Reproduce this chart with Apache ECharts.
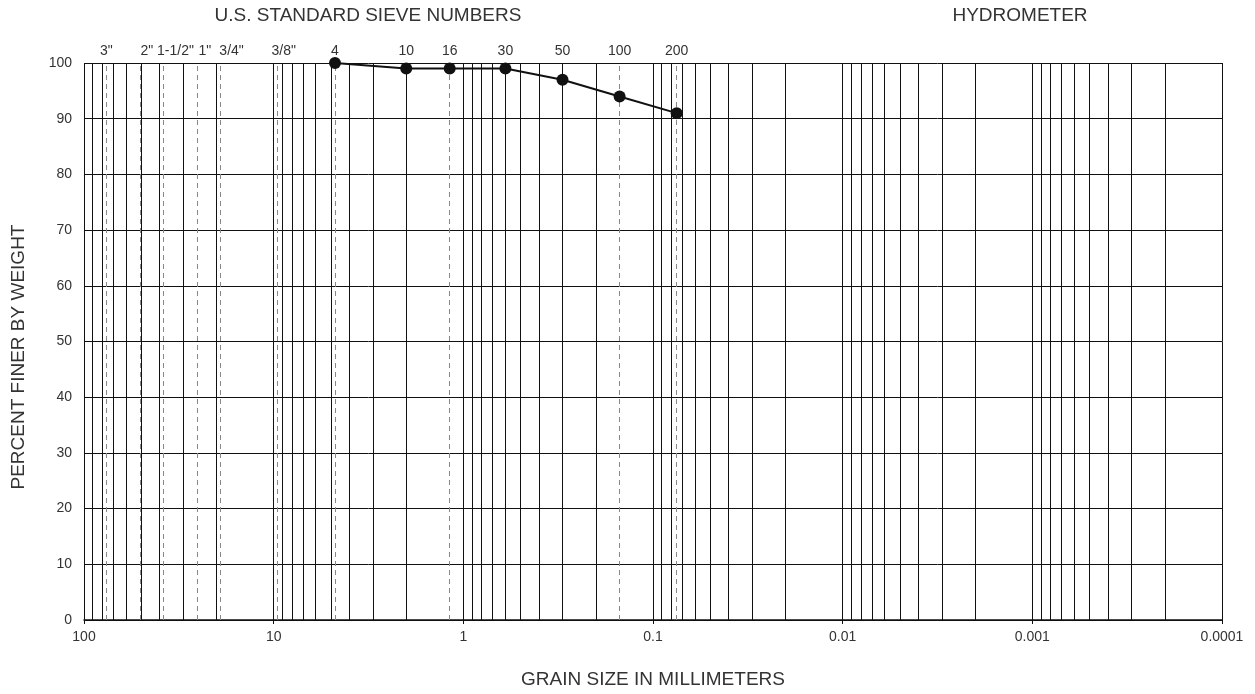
<!DOCTYPE html>
<html>
<head>
<meta charset="utf-8">
<script src="https://cdn.jsdelivr.net/npm/echarts@6/dist/echarts.min.js"></script>
<style>
html,body{margin:0;padding:0;background:#fff;}
#chart{width:1255px;height:694px;}
</style>
</head>
<body>
<div id="chart"></div>
<script>
// ---- data ----
const sieveLabels = ['3"', '2"', '1-1/2"', '1"', '3/4"', '3/8"', '4', '10', '16', '30', '50', '100', '200'];
const sieveSizes = [76.2, 50.8, 38.1, 25.4, 19.05, 9.525, 4.75, 2.0, 1.18, 0.6, 0.3, 0.15, 0.075];
const sampleSizes = [4.75, 2.0, 1.18, 0.6, 0.3, 0.15, 0.075];
const percentFiner = [100, 99, 99, 99, 97, 94, 91];
const xTickLabels = ['100', '10', '1', '0.1', '0.01', '0.001', '0.0001'];
const yTickValues = [0, 10, 20, 30, 40, 50, 60, 70, 80, 90, 100];

// ---- styles ----
const FONT = '"Liberation Sans", Arial, sans-serif';
const TEXT = '#333';
const labelShift = { '2"': 7, '1-1/2"': 12, '1"': 8, '3/4"': 11, '3/8"': 6 };

// log grid lines (1..9 x each decade between 0.0001 and 100)
const gridValues = [];
for (let e = -4; e <= 2; e++) {
  for (let m = 1; m <= 9; m++) {
    const v = +(m * Math.pow(10, e)).toPrecision(6);
    if (v >= 0.0001 && v <= 100) gridValues.push(v);
  }
}

const chart = echarts.init(document.getElementById('chart'), null, { renderer: 'canvas' });
chart.setOption({
  animation: false,
  backgroundColor: '#fff',
  textStyle: { fontFamily: FONT },
  grid: { left: 84, right: 33, top: 63, bottom: 72, containLabel: false },
  graphic: [
    { type: 'text', x: 368, y: 16, style: { text: 'U.S. STANDARD SIEVE NUMBERS', font: '19px ' + FONT, fill: TEXT, textAlign: 'center', textVerticalAlign: 'middle' } },
    { type: 'text', x: 1020, y: 16, style: { text: 'HYDROMETER', font: '19px ' + FONT, fill: TEXT, textAlign: 'center', textVerticalAlign: 'middle' } },
    { type: 'text', x: 19, y: 357, rotation: Math.PI / 2, style: { text: 'PERCENT FINER BY WEIGHT', font: '19px ' + FONT, fill: TEXT, textAlign: 'center', textVerticalAlign: 'middle' } }
  ],
  xAxis: {
    type: 'log',
    logBase: 10,
    min: 0.0001,
    max: 100,
    inverse: true,
    splitNumber: 6,
    name: 'GRAIN SIZE IN MILLIMETERS',
    nameLocation: 'middle',
    nameGap: 50,
    nameTextStyle: { fontSize: 19, color: TEXT, fontFamily: FONT },
    axisLine: { show: true, lineStyle: { color: '#111', width: 1.5 } },
    axisTick: { show: true, length: 4, lineStyle: { color: '#111' } },
    minorTick: { show: false },
    splitLine: { show: false },
    axisLabel: {
      fontSize: 14, color: TEXT, margin: 10, fontFamily: FONT,
      formatter: function (v) {
        const idx = 2 - Math.round(Math.log10(v));
        return xTickLabels[idx] !== undefined ? xTickLabels[idx] : '';
      }
    }
  },
  yAxis: {
    type: 'value',
    min: 0,
    max: 100,
    interval: 10,
    axisLine: { show: false },
    axisTick: { show: false },
    splitLine: { show: true, lineStyle: { color: '#111', width: 1 } },
    axisLabel: {
      fontSize: 14, color: TEXT, margin: 12, fontFamily: FONT,
      formatter: function (v) { return yTickValues.indexOf(v) >= 0 ? String(v) : ''; }
    }
  },
  series: [
    {
      name: 'sieves',
      type: 'line',
      z: 1,
      data: [],
      silent: true,
      markLine: {
        silent: true,
        precision: 10,
        symbol: ['none', 'none'],
        animation: false,
        lineStyle: { color: '#888', type: [5, 4], width: 1 },
        label: {
          show: true, position: 'end', distance: 5,
          fontSize: 14, color: TEXT, fontFamily: FONT
        },
        data: sieveSizes.map(function (s, i) {
          return {
            xAxis: s,
            name: sieveLabels[i],
            label: { formatter: sieveLabels[i], offset: [labelShift[sieveLabels[i]] || 0, 0] }
          };
        })
      }
    },
    {
      name: 'grid',
      type: 'line',
      z: 2,
      data: [],
      silent: true,
      markLine: {
        silent: true,
        precision: 10,
        symbol: ['none', 'none'],
        animation: false,
        lineStyle: { color: '#111', type: 'solid', width: 1 },
        label: { show: false },
        data: gridValues.map(function (v) { return { xAxis: v }; })
      }
    },
    {
      name: 'sample',
      type: 'line',
      z: 5,
      data: sampleSizes.map(function (s, i) { return [s, percentFiner[i]]; }),
      symbol: 'circle',
      symbolSize: 12,
      showSymbol: true,
      lineStyle: { color: '#111', width: 2 },
      itemStyle: { color: '#111' },
      silent: true
    }
  ]
});
</script>
</body>
</html>
